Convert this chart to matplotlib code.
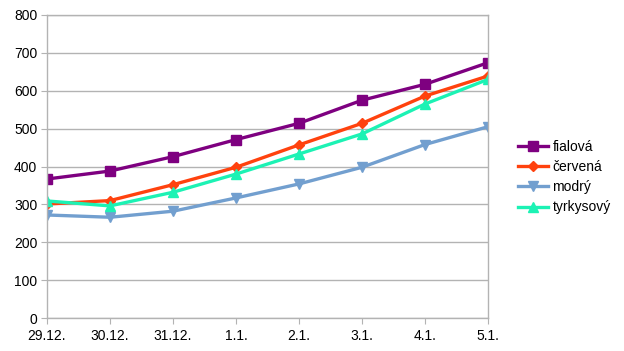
import matplotlib
matplotlib.use("Agg")
import matplotlib.pyplot as plt

plt.rcParams['font.family'] = ['Liberation Sans', 'DejaVu Sans']

DATES = ["29.12.", "30.12.", "31.12.", "1.1.", "2.1.", "3.1.", "4.1.", "5.1."]
FIALOVA = [367, 388, 426, 471, 514, 575, 617, 674]
CERVENA = [301, 310, 352, 398, 457, 514, 586, 639]
MODRY = [272, 266, 282, 317, 354, 398, 458, 505]
TYRKYSOVY = [309, 296, 332, 380, 433, 486, 565, 630]

NAMES = ["fialová", "červená", "modrý", "tyrkysový"]
COLORS = ["#7E0080", "#FF420E", "#729FCF", "#1CF2B4"]
MARKERS = ["s", "D", "v", "^"]
SIZES = [7, 5, 7, 7]
GREY = "#B3B3B3"

fig = plt.figure(figsize=(6.24, 3.51), dpi=100)
ax = fig.add_axes([47 / 624, 33 / 351, 441 / 624, 303 / 351])

x = list(range(len(DATES)))
for vals, name, col, mk, ms in zip([FIALOVA, CERVENA, MODRY, TYRKYSOVY], NAMES, COLORS, MARKERS, SIZES):
	ax.plot(x, vals, color=col, lw=2.4, marker=mk, markersize=ms, label=name, solid_joinstyle='round')

ax.set_xlim(0, len(DATES) - 1)
ax.set_ylim(0, 800)
ax.set_yticks(range(0, 801, 100))
ax.set_xticks(x)
ax.set_xticklabels(DATES)

# grid and frame in light grey
ax.yaxis.grid(True, color=GREY, lw=1)
ax.set_axisbelow(True)
for s in ax.spines.values():
	s.set_color(GREY)
	s.set_linewidth(1)
ax.tick_params(axis='y', length=4, color=GREY, labelsize=10, pad=3)
ax.tick_params(axis='x', length=4, color=GREY, labelsize=10, pad=4)

ax.legend(loc='center left', bbox_to_anchor=(1.055, 0.465), frameon=False, fontsize=10,
	handlelength=2.2, handletextpad=0.3, labelspacing=0.45, borderaxespad=0)

fig.savefig("out.png", dpi=100)
